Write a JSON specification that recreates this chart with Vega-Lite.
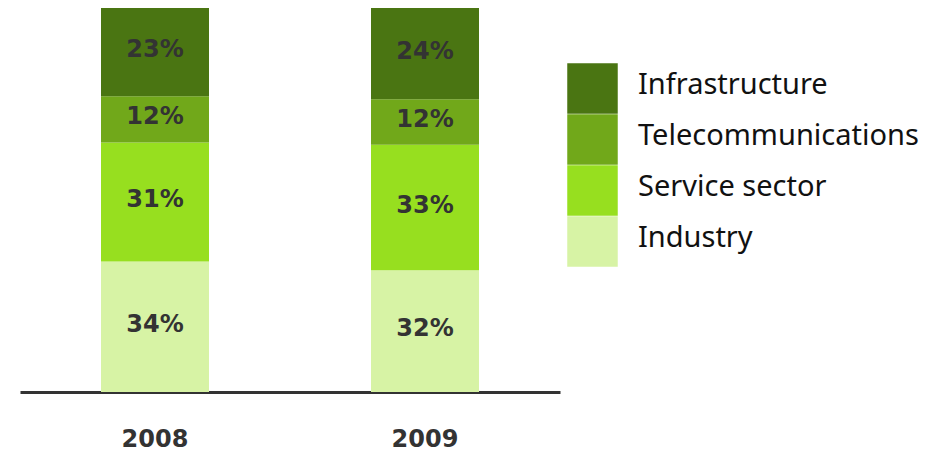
{
  "$schema": "https://vega.github.io/schema/vega-lite/v6.json",
  "width": 540,
  "height": 384,
  "autosize": "none",
  "padding": {"left": 20, "top": 8, "right": 381, "bottom": 64},
  "background": "white",
  "config": {"view": {"stroke": null}},
  "data": {
    "values": [
      {"year": "2008", "sector": "Industry", "k": 1, "pct": 34},
      {"year": "2008", "sector": "Service sector", "k": 2, "pct": 31},
      {"year": "2008", "sector": "Telecommunications", "k": 3, "pct": 12},
      {"year": "2008", "sector": "Infrastructure", "k": 4, "pct": 23},
      {"year": "2009", "sector": "Industry", "k": 1, "pct": 32},
      {"year": "2009", "sector": "Service sector", "k": 2, "pct": 33},
      {"year": "2009", "sector": "Telecommunications", "k": 3, "pct": 12},
      {"year": "2009", "sector": "Infrastructure", "k": 4, "pct": 24}
    ]
  },
  "transform": [{"calculate": "datum.pct + '%'", "as": "label"}],
  "encoding": {
    "x": {
      "field": "year",
      "type": "nominal",
      "scale": {"paddingInner": 0.6, "paddingOuter": 0.3},
      "axis": {
        "title": null,
        "labelAngle": 0,
        "ticks": false,
        "domainColor": "#333333",
        "domainWidth": 3,
        "labelFont": "DejaVu Sans",
        "labelFontWeight": "bold",
        "labelFontSize": 24,
        "labelColor": "#333333",
        "labelPadding": 35
      }
    }
  },
  "layer": [
    {
      "mark": {"type": "bar", "strokeWidth": 0},
      "encoding": {
        "y": {"field": "pct", "type": "quantitative", "stack": "normalize", "axis": null},
        "order": {"field": "k", "type": "ordinal"},
        "color": {
          "field": "sector",
          "type": "nominal",
          "scale": {
            "domain": ["Infrastructure", "Telecommunications", "Service sector", "Industry"],
            "range": ["#4a7512", "#71a81a", "#97df1f", "#d7f3a5"]
          },
          "legend": {
            "title": null,
            "orient": "none",
            "legendX": 547,
            "legendY": 55,
            "symbolType": "square",
            "symbolSize": 2550,
            "symbolStrokeWidth": 0,
            "symbolOpacity": 1,
            "rowPadding": 0,
            "labelOffset": 20,
            "labelFont": "Noto Sans",
            "labelFontSize": 29,
            "labelColor": "#111111",
            "labelLimit": 400,
            "padding": 0,
            "encode": {"labels": {"update": {"dy": {"value": -4}}}}
          }
        }
      }
    },
    {
      "mark": {"type": "text", "font": "DejaVu Sans", "fontWeight": "bold", "fontSize": 24, "color": "#333333", "dy": -2},
      "encoding": {
        "y": {"field": "pct", "type": "quantitative", "stack": "normalize", "bandPosition": 0.5},
        "order": {"field": "k", "type": "ordinal"},
        "detail": {"field": "sector"},
        "text": {"field": "label", "type": "nominal"}
      }
    }
  ]
}
